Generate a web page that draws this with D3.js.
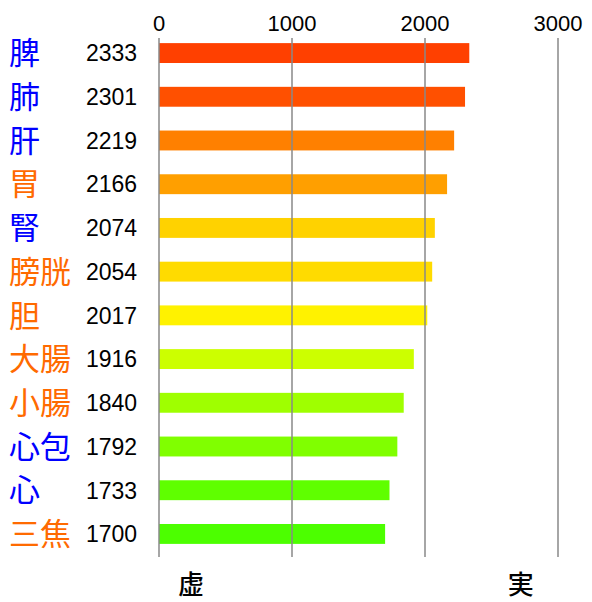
<!DOCTYPE html>
<html>
<head>
<meta charset="utf-8">
<script src="https://cdn.jsdelivr.net/npm/d3@7"></script>
<style>
  html, body { margin: 0; padding: 0; background: #fff; }
  svg { display: block; }
</style>
</head>
<body>
<svg id="chart" width="592" height="602"></svg>
<script>
// organs, values and their colours
const organs = ["脾", "肺", "肝", "胃", "腎", "膀胱", "胆", "大腸", "小腸", "心包", "心", "三焦"];
const values = [2333, 2301, 2219, 2166, 2074, 2054, 2017, 1916, 1840, 1792, 1733, 1700];
const labelKind = ["yin", "yin", "yin", "yang", "yin", "yang", "yang", "yang", "yang", "yin", "yin", "yang"];
const barColors = ["#ff4000", "#ff5000", "#ff8000", "#ff9f00", "#ffd200", "#ffdb00",
                   "#fff200", "#ccff00", "#9fff00", "#80ff00", "#5fff00", "#4cff00"];
const ticks = [0, 1000, 2000, 3000];
const bottomLabels = [{ t: "虚", v: 240 }, { t: "実", v: 2720 }];

const svg = d3.select("#chart");

const x = d3.scaleLinear().domain([0, 3000]).range([159, 558]);
const y = d3.scaleBand().domain(organs).range([30, 557]).paddingInner(0.545).paddingOuter(0.3);

const kindColor = { yin: "#0000ff", yang: "#ff6a00" };
const cjk = "'Noto Sans CJK JP', 'Noto Sans CJK SC', sans-serif";
const latin = "'Liberation Sans', Arial, sans-serif";

// bars
svg.append("g").selectAll("rect")
  .data(values)
  .join("rect")
  .attr("x", x(0))
  .attr("y", (d, i) => y(organs[i]))
  .attr("width", d => x(d) - x(0))
  .attr("height", y.bandwidth())
  .attr("fill", (d, i) => barColors[i]);

// grid lines sit on top of the bars
svg.append("g").selectAll("line")
  .data(ticks)
  .join("line")
  .attr("x1", d => x(d)).attr("x2", d => x(d))
  .attr("y1", 38).attr("y2", 557)
  .attr("stroke", "#888")
  .attr("stroke-width", 1.5);

// top tick labels
svg.append("g").selectAll("text")
  .data(ticks)
  .join("text")
  .attr("x", d => x(d))
  .attr("y", 31)
  .attr("text-anchor", "middle")
  .style("font-family", latin)
  .style("font-size", "22px")
  .text(d => d);

// organ names
svg.append("g").selectAll("text")
  .data(organs)
  .join("text")
  .attr("x", 9)
  .attr("y", d => y(d) + y.bandwidth() / 2)
  .attr("dy", "0.36em")
  .attr("fill", (d, i) => kindColor[labelKind[i]])
  .style("font-family", cjk)
  .style("font-size", "31px")
  .text(d => d);

// values
svg.append("g").selectAll("text")
  .data(values)
  .join("text")
  .attr("x", 86)
  .attr("y", (d, i) => y(organs[i]) + y.bandwidth() / 2)
  .attr("dy", "0.36em")
  .style("font-family", latin)
  .style("font-size", "23px")
  .text(d => d);

// 虚 / 実
svg.append("g").selectAll("text")
  .data(bottomLabels)
  .join("text")
  .attr("x", d => x(d.v))
  .attr("y", 594)
  .attr("text-anchor", "middle")
  .style("font-family", cjk)
  .style("font-size", "26px")
  .style("font-weight", 500)
  .text(d => d.t);
</script>
</body>
</html>
